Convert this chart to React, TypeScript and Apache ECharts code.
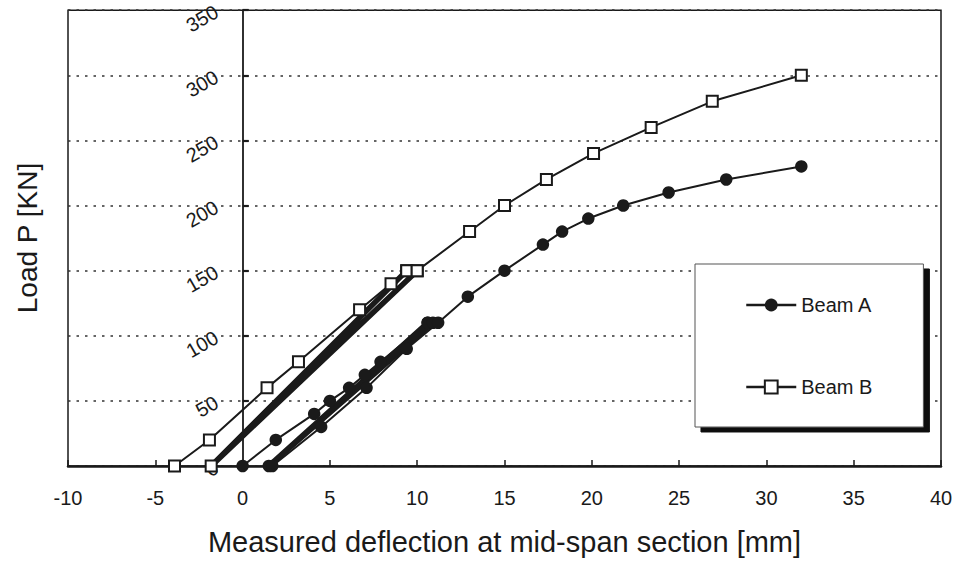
import React, { useEffect, useRef } from "react";
import * as echarts from "echarts";

// Beam A (filled circles)
// first loading branch
const beamALoad1Deflection = [0, 1.9, 4.1, 5.0, 6.1, 7.0, 7.9, 10.6];
const beamALoad1Load = [0, 20, 40, 50, 60, 70, 80, 110];
// unloading / reloading cycles (overlapping lines)
const beamACycleDeflection = [10.6, 1.5, 10.9];
const beamACycleLoad = [110, 0, 110];
// final reloading up to failure
const beamALoad2Deflection = [1.7, 4.5, 7.1, 9.4, 11.2, 12.9, 15.0, 17.2, 18.3, 19.8, 21.8, 24.4, 27.7, 32.0];
const beamALoad2Load = [0, 30, 60, 90, 110, 130, 150, 170, 180, 190, 200, 210, 220, 230];

// Beam B (open squares)
const beamBLoad1Deflection = [-3.9, -1.9, 1.4, 3.2, 6.7, 8.5, 9.4];
const beamBLoad1Load = [0, 20, 60, 80, 120, 140, 150];
const beamBCycleDeflection = [9.4, -1.8, 10.0];
const beamBCycleLoad = [150, 0, 150];
const beamBLoad2Deflection = [10.0, 13.0, 15.0, 17.4, 20.1, 23.4, 26.9, 32.0];
const beamBLoad2Load = [150, 180, 200, 220, 240, 260, 280, 300];

const seriesNames = ["Beam A", "Beam B"];
const xTitle = "Measured deflection at mid-span section [mm]";
const yTitle = "Load P [KN]";

const FONT = "'Liberation Sans', Arial, Helvetica, sans-serif";
const INK = "#1a1a1a";
const GRID_LEFT = 68;

const pairs = (xs: number[], ys: number[]) => xs.map((x, i) => [x, ys[i]]);

const styleA = {
  type: "line",
  name: seriesNames[0],
  symbol: "circle",
  symbolSize: 12.5,
  showSymbol: true,
  itemStyle: { color: INK, borderColor: INK, borderWidth: 0 },
  z: 3,
};
const styleB = {
  type: "line",
  name: seriesNames[1],
  symbol: "rect",
  symbolSize: 11,
  showSymbol: true,
  itemStyle: { color: "#ffffff", borderColor: INK, borderWidth: 2 },
  z: 3,
};

export default function App() {
  const ref = useRef<HTMLDivElement>(null);

  useEffect(() => {
    if (!ref.current) return;
    const chart = echarts.init(ref.current, undefined, { renderer: "svg" });

    chart.setOption({
      animation: false,
      backgroundColor: "#ffffff",
      textStyle: { fontFamily: FONT, color: INK },
      grid: {
        left: GRID_LEFT,
        right: 15,
        top: 8,
        bottom: 91.5,
        show: true,
        borderColor: INK,
        borderWidth: 1.5,
        backgroundColor: "transparent",
      },
      graphic: [
        {
          type: "text",
          x: 27,
          y: 238,
          rotation: Math.PI / 2,
          style: {
            text: yTitle,
            fontSize: 28,
            fontFamily: FONT,
            fill: INK,
            textAlign: "center",
            textVerticalAlign: "middle",
          },
        },
      ],
      legend: {
        orient: "vertical",
        left: 695,
        top: 264,
        padding: [31, 51, 30, 50],
        itemGap: 62,
        itemWidth: 50,
        itemHeight: 16,
        backgroundColor: "#ffffff",
        borderColor: "#555",
        borderWidth: 1,
        borderRadius: 0,
        shadowColor: "#111",
        shadowBlur: 0,
        shadowOffsetX: 6,
        shadowOffsetY: 5,
        lineStyle: { width: 2.5, color: INK },
        textStyle: { fontSize: 20, color: INK, fontFamily: FONT },
        data: seriesNames,
      },
      xAxis: {
        type: "value",
        min: -10,
        max: 40,
        interval: 5,
        name: xTitle,
        nameLocation: "middle",
        nameGap: 61,
        nameTextStyle: { fontSize: 29, color: INK, fontFamily: FONT },
        axisLine: { show: true, onZero: false, lineStyle: { color: INK, width: 2.5 } },
        axisTick: { show: true, inside: true, length: 6, lineStyle: { color: INK, width: 1.5 } },
        axisLabel: { fontSize: 20, color: INK, margin: 22, fontFamily: FONT },
        splitLine: { show: false },
      },
      yAxis: {
        type: "value",
        min: 0,
        max: 350,
        interval: 50,
        offset: 0,
        axisLine: { show: true, onZero: false, lineStyle: { color: INK, width: 1.8 } },
        axisTick: { show: true, inside: true, length: 6, lineStyle: { color: INK, width: 2.2 } },
        axisLabel: {
          fontSize: 20,
          color: INK,
          rotate: 30,
          margin: 26,
          padding: [40, 0, 0, 0],
          fontFamily: FONT,
        },
        splitLine: { show: true, lineStyle: { color: "#333", width: 1.6, type: [2.5, 6] } },
      },
      series: [
        { ...styleA, data: pairs(beamALoad1Deflection, beamALoad1Load), lineStyle: { color: INK, width: 2 } },
        { ...styleA, data: pairs(beamACycleDeflection, beamACycleLoad), lineStyle: { color: INK, width: 5.5 } },
        { ...styleA, data: pairs(beamALoad2Deflection, beamALoad2Load), lineStyle: { color: INK, width: 2 } },
        { ...styleB, data: pairs(beamBLoad1Deflection, beamBLoad1Load), lineStyle: { color: INK, width: 2 } },
        { ...styleB, data: pairs(beamBCycleDeflection, beamBCycleLoad), lineStyle: { color: INK, width: 5.5 } },
        { ...styleB, data: pairs(beamBLoad2Deflection, beamBLoad2Load), lineStyle: { color: INK, width: 2 } },
      ],
    });

    // Place the load axis on the zero of the deflection axis, using the library's own scale.
    const zeroPx = chart.convertToPixel({ xAxisIndex: 0 }, 0) as number;
    chart.setOption({ yAxis: { offset: -(zeroPx - GRID_LEFT) } });

    return () => chart.dispose();
  }, []);

  return (
    <div
      ref={ref}
      style={{ position: "fixed", left: 0, top: 0, width: 956, height: 561 }}
    />
  );
}
